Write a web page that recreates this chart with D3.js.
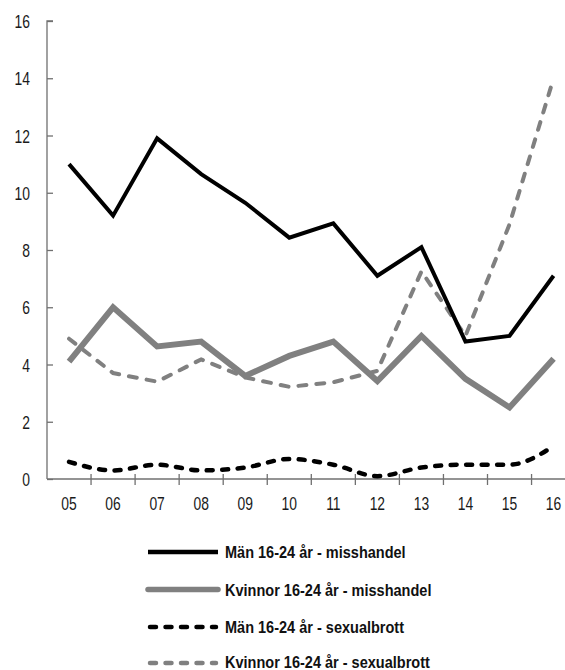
<!DOCTYPE html>
<html><head><meta charset="utf-8">
<script src="https://cdn.jsdelivr.net/npm/d3@7"></script>
<style>
html,body{margin:0;padding:0;background:#fff;}
svg{display:block;}
text{font-family:"Liberation Sans","Arimo",sans-serif;}
</style></head>
<body>
<svg id="c" width="565" height="670"></svg>
<script>
const years = ["05","06","07","08","09","10","11","12","13","14","15","16"];
const manMisshandel = [11.0, 9.2, 11.9, 10.65, 9.65, 8.43, 8.93, 7.1, 8.1, 4.8, 5.0, 7.1];
const kvinnorMisshandel = [4.1, 6.0, 4.63, 4.8, 3.6, 4.3, 4.8, 3.42, 5.0, 3.5, 2.5, 4.2];
const manSexualbrott = [0.6, 0.3, 0.5, 0.3, 0.4, 0.7, 0.5, 0.1, 0.4, 0.5, 0.5, 1.15];
const kvinnorSexualbrott = [4.9, 3.7, 3.4, 4.18, 3.55, 3.22, 3.38, 3.78, 7.25, 5.0, 8.9, 14.0];
const yTicks = [0, 2, 4, 6, 8, 10, 12, 14, 16];
const seriesNames = ["Män 16-24 år - misshandel","Kvinnor 16-24 år - misshandel","Män 16-24 år - sexualbrott","Kvinnor 16-24 år - sexualbrott"];

const series = [
  {name: seriesNames[0], values: manMisshandel, color: "#000", width: 4, dash: null, curve: d3.curveLinear, cap: "butt"},
  {name: seriesNames[1], values: kvinnorMisshandel, color: "#808080", width: 6, dash: null, curve: d3.curveLinear, cap: "butt"},
  {name: seriesNames[2], values: manSexualbrott, color: "#000", width: 4.5, dash: "6,9.5", curve: d3.curveMonotoneX, cap: "round"},
  {name: seriesNames[3], values: kvinnorSexualbrott, color: "#808080", width: 4, dash: "8,10", curve: d3.curveLinear, cap: "round"}
];

const SX = 0.75;   // horizontal compression for tick labels (condensed look)
const SXL = 0.88;  // horizontal compression for legend labels
const svg = d3.select("#c");
const x = d3.scaleBand().domain(years).range([47, 575.6]);
const y = d3.scaleLinear().domain([0, 16]).range([479, 21]);
const axisColor = "#707070";

// Y axis
const yAxis = svg.append("g").attr("transform", "translate(47,0)")
  .call(d3.axisRight(y).tickValues(yTicks).tickSize(6).tickFormat(d => d));
yAxis.select(".domain").attr("stroke", axisColor).attr("stroke-width", 1.3).attr("d", `M6,${y(16)}H0V${y(0)}`);
yAxis.selectAll(".tick line").attr("stroke", axisColor).attr("stroke-width", 1.3);
yAxis.selectAll(".tick text")
  .attr("x", null).attr("dy", null).attr("y", null)
  .attr("transform", `translate(-17,6.5) scale(${SX},1)`)
  .attr("text-anchor", "end")
  .attr("font-size", 18.5).attr("fill", "#1a1a1a");

// X axis
const xAxis = svg.append("g").attr("transform", `translate(0,${y(0)})`)
  .call(d3.axisBottom(x).tickSize(0).tickFormat(d => d));
xAxis.select(".domain").attr("stroke", axisColor).attr("stroke-width", 1.3).attr("d", `M47,0H575.6`);
xAxis.selectAll(".tick text")
  .attr("y", null).attr("dy", null)
  .attr("transform", `translate(0,30.5) scale(${SX},1)`)
  .attr("font-size", 18.5).attr("fill", "#1a1a1a");
// category separators (tick marks between bands)
svg.append("g").selectAll("line").data(years.slice(1)).join("line")
  .attr("x1", d => x(d)).attr("x2", d => x(d))
  .attr("y1", y(0) - 5).attr("y2", y(0) + 6)
  .attr("stroke", axisColor).attr("stroke-width", 1.3);

// Lines
const order = [3, 1, 0, 2];
order.forEach(i => {
  const s = series[i];
  const line = d3.line()
    .x((d, j) => x(years[j]) + x.bandwidth() / 2)
    .y(d => y(d))
    .curve(s.curve);
  svg.append("path").datum(s.values)
    .attr("d", line)
    .attr("fill", "none")
    .attr("stroke", s.color)
    .attr("stroke-width", s.width)
    .attr("stroke-linejoin", "miter")
    .attr("stroke-linecap", s.cap)
    .attr("stroke-dasharray", s.dash);
});

// Legend
const legendY = [552, 589.5, 627, 663];
const lg = svg.append("g");
series.forEach((s, i) => {
  const g = lg.append("g").attr("transform", `translate(0,${legendY[i]})`);
  g.append("line").attr("x1", s.dash ? 150 : 148).attr("x2", s.dash ? 216 : 218).attr("y1", 0).attr("y2", 0)
    .attr("stroke", s.color).attr("stroke-width", s.dash ? 4.5 : (i === 1 ? 5.5 : 4.5))
    .attr("stroke-linecap", s.dash ? "round" : (i === 1 ? "round" : "butt"))
    .attr("stroke-dasharray", s.dash ? "6,9.5" : null);
  g.append("text")
    .attr("transform", `translate(225,${i === 3 ? 4.5 : 6}) scale(${SXL},1)`)
    .attr("font-size", 16.5).attr("font-weight", "bold").attr("fill", "#111")
    .text(s.name);
});
</script>
</body></html>
